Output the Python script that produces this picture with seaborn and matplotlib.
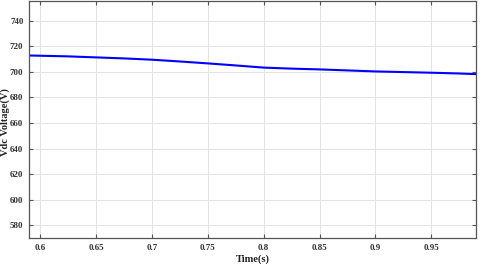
import matplotlib as mpl
mpl.use("Agg")
import matplotlib.pyplot as plt
import numpy as np
import pandas as pd
import seaborn as sns

# DC-link voltage trace
time_s = [0.59, 0.60, 0.625, 0.65, 0.675, 0.70, 0.725, 0.75, 0.775, 0.80,
          0.825, 0.85, 0.875, 0.90, 0.925, 0.95, 0.975, 0.99]
vdc = [712.9, 712.7, 712.2, 711.4, 710.6, 709.6, 708.2, 706.7, 705.1, 703.4,
       702.6, 702.0, 701.2, 700.4, 699.9, 699.4, 698.8, 698.3]
x_ticks = [0.6, 0.65, 0.7, 0.75, 0.8, 0.85, 0.9, 0.95]
x_labels = ['0.6', '0.65', '0.7', '0.75', '0.8', '0.85', '0.9', '0.95']
y_ticks = [580, 600, 620, 640, 660, 680, 700, 720, 740]

sns.set_style("whitegrid")
plt.rcParams['font.family'] = ['Liberation Serif', 'DejaVu Serif']
plt.rcParams['font.weight'] = 'bold'

df = pd.DataFrame({'t': time_s, 'v': vdc})

fig = plt.figure(figsize=(4.8, 2.68), dpi=100)
ax = fig.add_axes([0.0604, 0.112, 0.9313, 0.884])

sns.lineplot(data=df, x='t', y='v', color='#0000ff', linewidth=1.5, ax=ax)

ax.set_xlim(0.59, 0.99)
ax.set_ylim(570, 755.5)
ax.set_xticks(x_ticks)
ax.set_xticklabels(x_labels)
ax.set_yticks(y_ticks)
ax.grid(True, color='#e3e3e3', linewidth=0.7)

for s in ax.spines.values():
    s.set_visible(True)
    s.set_color('#555555')
    s.set_linewidth(0.9)

ax.tick_params(axis='both', which='both', direction='in', length=3,
               width=0.8, color='#555555', labelsize=6.5, pad=4,
               top=True, right=True, bottom=True, left=True,
               labeltop=False, labelright=False)
for lab in ax.get_xticklabels() + ax.get_yticklabels():
    lab.set_fontweight('bold')
    lab.set_color('#333333')

ax.set_xlabel('Time(s)', fontsize=7.5, fontweight='bold', color='#222222', labelpad=2)
ax.set_ylabel('Vdc Voltage(V)', fontsize=7.5, fontweight='bold', color='#222222')
ax.yaxis.set_label_coords(-0.042, 0.49)

fig.savefig('out.png', dpi=100)
plt.close(fig)
